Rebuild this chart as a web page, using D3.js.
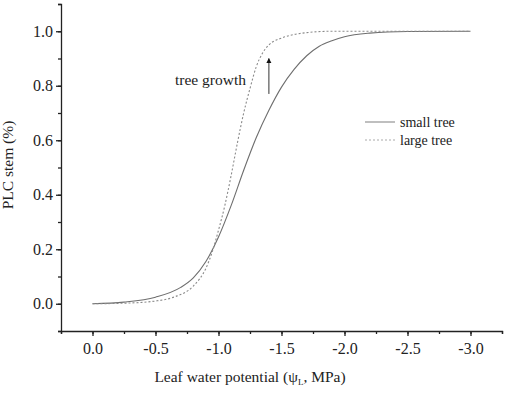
<!DOCTYPE html>
<html lang="en">
<head>
<meta charset="UTF-8">
<style>
    body {margin: 0; background: #fff;}
    svg text {font-family: "Liberation Serif", "DejaVu Serif", serif; fill: #222;}
    .axis path, .axis line {stroke: #222; stroke-width: 1.3;}
    .axis text {font-size: 16px;}
</style>
</head>
<body>
<div id="chart"></div>
<script src="https://d3js.org/d3.v7.min.js"></script>
<script>
// values
var smallX = [0, -0.25, -0.5, -0.7, -0.8, -0.9, -1.0, -1.1, -1.2, -1.3, -1.4, -1.5, -1.6, -1.7, -1.8, -1.9, -2.0, -2.2, -2.5, -3.0];
var smallY = [0, 0.006, 0.024, 0.06, 0.095, 0.155, 0.245, 0.36, 0.49, 0.61, 0.71, 0.795, 0.86, 0.91, 0.945, 0.965, 0.98, 0.993, 0.999, 1.0];

var largeX = [0, -0.25, -0.5, -0.65, -0.8, -0.9, -0.95, -1.0, -1.05, -1.1, -1.15, -1.2, -1.25, -1.3, -1.35, -1.4, -1.5, -1.6, -1.7, -1.9, -2.5, -3.0];
var largeY = [0, 0.002, 0.01, 0.025, 0.065, 0.13, 0.19, 0.27, 0.36, 0.47, 0.59, 0.7, 0.79, 0.87, 0.92, 0.95, 0.975, 0.988, 0.995, 1.0, 1.0, 1.0];

var xTicks = [0, -0.5, -1.0, -1.5, -2.0, -2.5, -3.0];
var yTicks = [0, 0.2, 0.4, 0.6, 0.8, 1.0];

var width = 517, height = 396;
var svg = d3.select("#chart").append("svg")
    .attr("width", width)
    .attr("height", height);

// scales
var x = d3.scaleLinear().domain([0.25, -3.25]).range([61, 502]);
var y = d3.scaleLinear().domain([-0.1, 1.1]).range([331, 4]);

// plain hyphen minus, like the original
var fmt = function(d) { return d.toFixed(1); };

// minor ticks
var xMinor = d3.range(0.25, -3.26, -0.25).map(function(d) { return +d.toFixed(2); });
var yMinor = d3.range(-0.1, 1.11, 0.1).map(function(d) { return +d.toFixed(1); });

svg.append("g")
    .attr("class", "axis")
    .attr("transform", "translate(0,331)")
    .call(d3.axisBottom(x).tickValues(xMinor).tickSize(3).tickFormat(""));
svg.append("g")
    .attr("class", "axis")
    .attr("transform", "translate(61,0)")
    .call(d3.axisLeft(y).tickValues(yMinor).tickSize(3).tickFormat(""));

// major ticks
svg.append("g")
    .attr("class", "axis")
    .attr("transform", "translate(0,331)")
    .call(d3.axisBottom(x).tickValues(xTicks).tickSize(5).tickPadding(7).tickFormat(fmt))
    .call(function(g) { g.select(".domain").remove(); });
svg.append("g")
    .attr("class", "axis")
    .attr("transform", "translate(61,0)")
    .call(d3.axisLeft(y).tickValues(yTicks).tickSize(5).tickPadding(3).tickFormat(fmt))
    .call(function(g) { g.select(".domain").remove(); });

// curves
var line = d3.line()
    .x(function(d) { return x(d[0]); })
    .y(function(d) { return y(d[1]); })
    .curve(d3.curveMonotoneX);

svg.append("path")
    .datum(d3.zip(smallX, smallY))
    .attr("d", line)
    .attr("fill", "none")
    .attr("stroke", "#6e6e6e")
    .attr("stroke-width", 1.1);

svg.append("path")
    .datum(d3.zip(largeX, largeY))
    .attr("d", line)
    .attr("fill", "none")
    .attr("stroke", "#8a8a8a")
    .attr("stroke-width", 1.1)
    .attr("stroke-dasharray", "2,2");

// annotation
svg.append("defs").append("marker")
    .attr("id", "head")
    .attr("viewBox", "0 0 10 10")
    .attr("refX", 9).attr("refY", 5)
    .attr("markerWidth", 5).attr("markerHeight", 7)
    .attr("markerUnits", "userSpaceOnUse")
    .attr("orient", "auto")
    .append("path").attr("d", "M0,0L10,5L0,10z").attr("fill", "#111");

svg.append("line")
    .attr("x1", x(-1.4)).attr("x2", x(-1.4))
    .attr("y1", y(0.77)).attr("y2", y(0.9))
    .attr("stroke", "#333").attr("stroke-width", 1)
    .attr("marker-end", "url(#head)");

svg.append("text")
    .attr("x", 175).attr("y", 85)
    .style("font-size", "15.5px")
    .text("tree growth");

// legend
svg.append("line").attr("x1", 365).attr("x2", 395).attr("y1", 122).attr("y2", 122)
    .attr("stroke", "#8a8a8a").attr("stroke-width", 1.1);
svg.append("line").attr("x1", 365).attr("x2", 395).attr("y1", 140).attr("y2", 140)
    .attr("stroke", "#aaa").attr("stroke-width", 1).attr("stroke-dasharray", "2,2");
svg.append("text").attr("x", 400).attr("y", 127).style("font-size", "14px").text("small tree");
svg.append("text").attr("x", 400).attr("y", 145).style("font-size", "14px").text("large tree");

// axis titles
var xt = svg.append("text")
    .attr("x", x(-1.25)).attr("y", 382)
    .attr("text-anchor", "middle")
    .style("font-size", "15.5px");
xt.append("tspan").text("Leaf water potential (\u03C8");
xt.append("tspan").attr("dy", 3).style("font-size", "9px").text("L");
xt.append("tspan").attr("dy", -3).text(", MPa)");

svg.append("text")
    .attr("transform", "translate(13,165) rotate(-90)")
    .attr("text-anchor", "middle")
    .style("font-size", "15.5px")
    .text("PLC stem (%)");
</script>
</body>
</html>
